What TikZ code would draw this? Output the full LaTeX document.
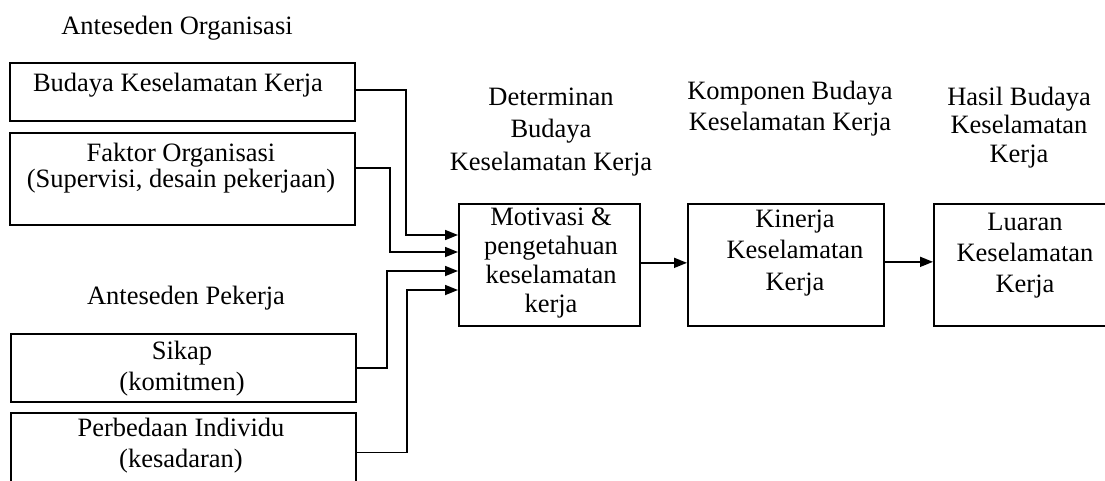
\documentclass[tikz,border=0pt]{standalone}
\usepackage{fontspec}
\setmainfont{Liberation Serif}
\usetikzlibrary{arrows.meta}
\tikzset{
  box/.style={draw, line width=1.7pt, inner sep=0pt, anchor=north west},
  lbl/.style={align=center, inner sep=0pt, font=\fontsize{26.5}{30.5}\selectfont},
  arr/.style={line width=1.7pt, -{Triangle[length=13pt,width=10pt]}},
}
\begin{document}
\begin{tikzpicture}[x=1pt,y=-1pt]
\clip (0,0) rectangle (1105,480);
\fill[white] (0,0) rectangle (1105,480);

% boxes
\node[box, minimum width=345pt, minimum height=58pt] (b1) at (9,62) {};
\node[box, minimum width=345pt, minimum height=92pt] (b2) at (9,132) {};
\node[box, minimum width=345pt, minimum height=68pt] (b3) at (10,333) {};
\node[box, minimum width=345pt, minimum height=90pt] (b4) at (10,412) {};
\node[box, minimum width=181pt, minimum height=122pt] (m) at (458,203) {};
\node[box, minimum width=196pt, minimum height=122pt] (k) at (687,203) {};
\node[box, minimum width=190pt, minimum height=122pt] (l) at (933,203) {};

% texts
\node[lbl] (tAO) at (177,27.9) {\strut Anteseden Organisasi};
\node[lbl] (tAP) at (186,297.9) {\strut Anteseden Pekerja};
\node[lbl] (t1) at (178,84.9) {\strut Budaya Keselamatan Kerja};
\node[lbl, font=\fontsize{26.5}{23}\selectfont] (t2) at (181,168.9) {\strut Faktor Organisasi\\\strut (Supervisi, desain pekerjaan)};
\node[lbl, font=\fontsize{26.5}{31}\selectfont] (t3) at (182,368.4) {\strut Sikap\\\strut (komitmen)};
\node[lbl] (t4) at (181,445.9) {\strut Perbedaan Individu\\\strut (kesadaran)};
\node[lbl, font=\fontsize{26.5}{32.5}\selectfont] (tD) at (551,131) {\strut Determinan\\\strut Budaya\\\strut Keselamatan Kerja};
\node[lbl] (tK) at (790,108.9) {\strut Komponen Budaya\\\strut Keselamatan Kerja};
\node[lbl, font=\fontsize{26.5}{28.5}\selectfont] (tH) at (1019,127.8) {\strut Hasil Budaya\\\strut Keselamatan\\\strut Kerja};
\node[lbl, font=\fontsize{26.5}{29}\selectfont] (tm) at (551,262.7) {\strut Motivasi \&\\\strut pengetahuan\\\strut keselamatan\\\strut kerja};
\node[lbl, font=\fontsize{26.5}{31.5}\selectfont] (tk) at (795,252.2) {\strut Kinerja\\\strut Keselamatan\\\strut Kerja};
\node[lbl, font=\fontsize{26.5}{31}\selectfont] (tl) at (1025,254.8) {\strut Luaran\\\strut Keselamatan\\\strut Kerja};

% connectors
\draw[arr] ([yshift=2pt]b1.east) -| (406,235) -- (m.west |- 406,235);
\draw[arr] ([yshift=11pt]b2.east) -| (390,252) -- (m.west |- 390,252);
\draw[arr] (b3.east) -| (387,271) -- (m.west |- 387,271);
\draw[arr] ([yshift=5.5pt]b4.east) -| (407,290) -- (m.west |- 407,290);
\draw[arr] ([yshift=2pt]m.east) -- ([yshift=2pt]k.west);
\draw[arr] ([yshift=3pt]k.east) -- ([yshift=3pt]l.west);
\end{tikzpicture}
\end{document}
